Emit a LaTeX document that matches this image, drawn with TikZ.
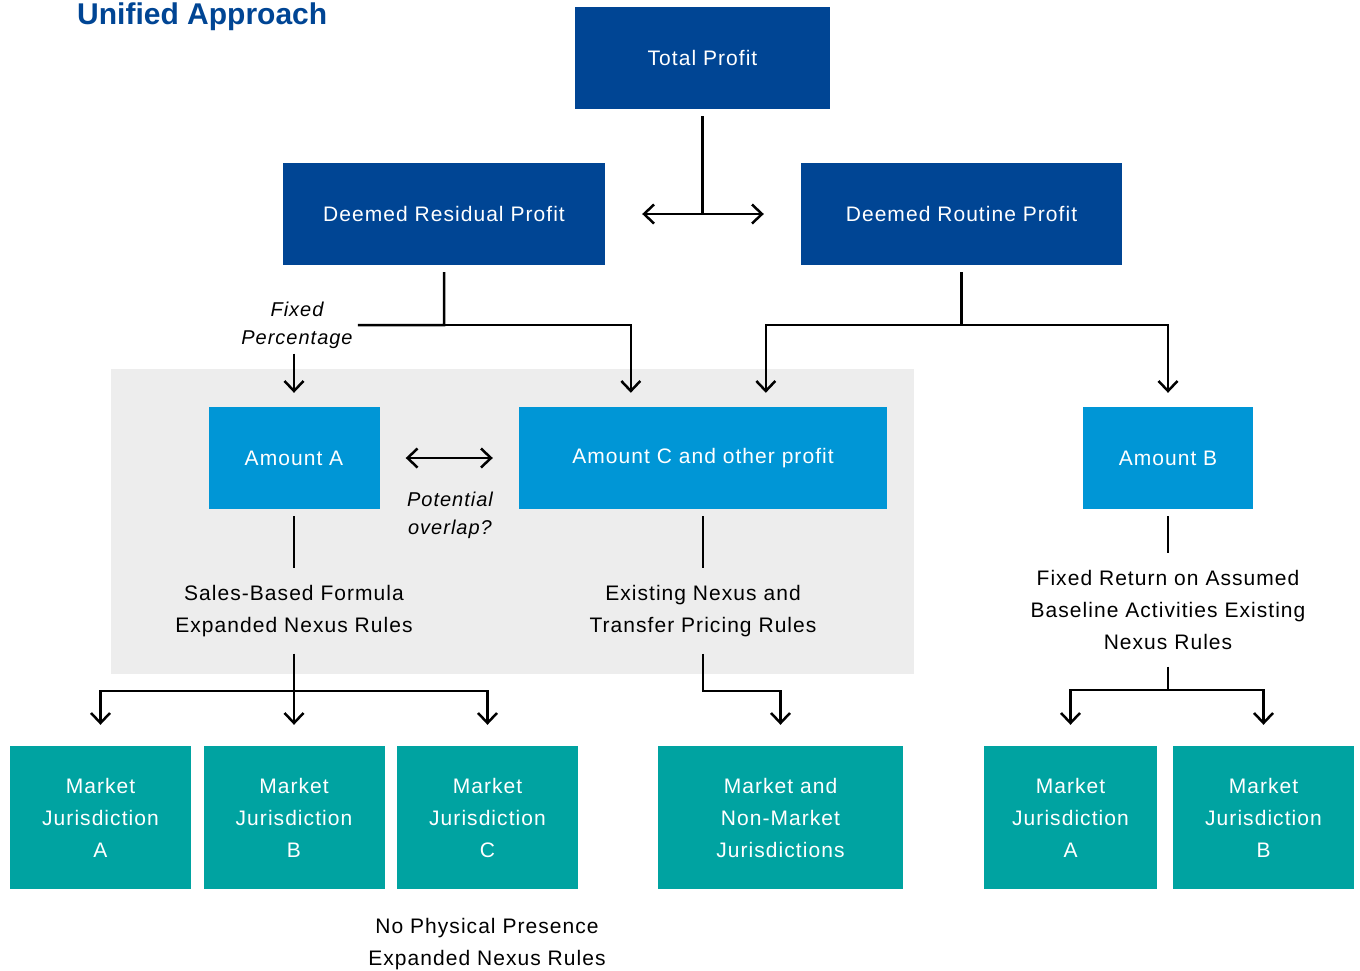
\documentclass[tikz,border=0pt]{standalone}
\usepackage{fontspec}
\setmainfont{Liberation Sans}
\newfontfamily\boxfont[LetterSpace=5]{Liberation Sans}
\usetikzlibrary{arrows.meta,calc,positioning}
\definecolor{dblue}{RGB}{0,69,148}
\definecolor{lblue}{RGB}{0,150,214}
\definecolor{tealbox}{RGB}{0,163,161}
\definecolor{bggray}{RGB}{237,237,237}
\tikzstyle{box}=[rectangle, inner sep=0pt, text=white, align=center,
font=\boxfont\fontsize{21}{32}\selectfont]
\tikzstyle{dbox}=[box, fill=dblue, minimum height=102pt]
\tikzstyle{lbox}=[box, fill=lblue, minimum height=102pt]
\tikzstyle{tbox}=[box, fill=tealbox, minimum height=143pt]
\tikzstyle{rule}=[align=center, inner xsep=0pt, inner ysep=17pt,
font=\boxfont\fontsize{21}{32}\selectfont]
\tikzstyle{note}=[align=center, inner sep=5pt,
font=\boxfont\itshape\fontsize{20}{28}\selectfont]
\tikzstyle{myline}=[line width=2.5pt, shorten <=7pt]
\tikzstyle{myarrow}=[myline, -{Straight Barb[length=10pt,width=19pt]}, shorten >=14pt]
\tikzstyle{dblarrow}=[line width=2.5pt,
{Straight Barb[length=10pt,width=19pt]}-{Straight Barb[length=10pt,width=19pt]}]

\begin{document}
\begin{tikzpicture}[x=1pt, y=-1pt]
    \useasboundingbox (0,0) rectangle (1360,970);
    \fill[bggray] (111,369) rectangle (914,674);

    \node[anchor=base west, text=dblue, inner sep=0pt,
        font=\bfseries\fontsize{30}{36}\selectfont] (ttl) at (77,24) {Unified Approach};

    \node[dbox, minimum width=255pt] (T) at (702.5,58) {Total Profit};
    \node[dbox, minimum width=322pt] (Da) at (444,214) {Deemed Residual Profit};
    \node[dbox, minimum width=321pt] (Db) at (961.5,214) {Deemed Routine Profit};

    \node[lbox, minimum width=171pt] (Aa) at (294,458) {Amount A};
    \node[lbox, minimum width=368pt] (Ac) at (703,458) {Amount C and other profit};
    \node[lbox, minimum width=170pt] (Ab) at (1168,458) {Amount B};

    \node[note] (fix) at (297,325) {Fixed\\Percentage};
    \node[note] (ovl) at (450,515) {Potential\\overlap?};

    \node[rule] (Ra) at (294,611) {Sales-Based Formula\\Expanded Nexus Rules};
    \node[rule] (Rc) at (703,611) {Existing Nexus and\\Transfer Pricing Rules};
    \node[rule] (Rb) at (1168,610) {Fixed Return on Assumed\\Baseline Activities Existing\\Nexus Rules};

    \node[tbox, minimum width=181pt] (Ma1) at (100.5,817.5) {Market\\Jurisdiction\\A};
    \node[tbox, minimum width=181pt] (Ma2) at (294,817.5) {Market\\Jurisdiction\\B};
    \node[tbox, minimum width=181pt] (Ma3) at (487.5,817.5) {Market\\Jurisdiction\\C};
    \node[tbox, minimum width=245pt] (Mc) at (780.5,817.5) {Market and\\Non-Market\\Jurisdictions};
    \node[tbox, minimum width=173pt] (Mb1) at (1070.5,817.5) {Market\\Jurisdiction\\A};
    \node[tbox, minimum width=181pt] (Mb2) at (1263.5,817.5) {Market\\Jurisdiction\\B};

    \node[rule, inner ysep=0pt] (npp) at (487,944) {No Physical Presence\\Expanded Nexus Rules};

    \coordinate (inC1) at ($(Ac.north west)+(112,0)$);
    \coordinate (inC2) at ($(Ac.north west)+(247,0)$);

    \draw[myline] (T.south) -- (T.south |- Da.east);
    \draw[dblarrow, shorten <=37pt, shorten >=37pt] (Da.east) -- (Db.west);

    \draw[myline] (Da.south) -- ++(0,60) -- (fix.east);
    \draw[myarrow, shorten <=0pt] (fix.south -| Aa.north) -- (Aa.north);
    \draw[myarrow] (Da.south) -- ++(0,60) -| (inC1);
    \draw[myarrow] (Db.south) -- ++(0,60) -| (inC2);
    \draw[myarrow] (Db.south) -- ++(0,60) -| (Ab.north);

    \draw[dblarrow, shorten <=26pt, shorten >=26pt] (Aa.east) -- (Ac.west);

    \draw[myline] (Aa.south) -- (Ra.north);
    \draw[myline] (Ac.south) -- (Rc.north);
    \draw[myline] (Ab.south) -- (Rb.north);

    \draw[myarrow, shorten <=0pt, shorten >=21pt] (Ra.south) -- (Ma2.north);
    \draw[myarrow, shorten <=0pt, shorten >=21pt] (Ra.south) -- ++(0,37) -| (Ma1.north);
    \draw[myarrow, shorten <=0pt, shorten >=21pt] (Ra.south) -- ++(0,37) -| (Ma3.north);
    \draw[myarrow, shorten <=0pt, shorten >=21pt] (Rc.south) -- ++(0,37) -| (Mc.north);
    \draw[myarrow, shorten <=0pt, shorten >=21pt] (Rb.south) -- ++(0,23) -| (Mb1.north);
    \draw[myarrow, shorten <=0pt, shorten >=21pt] (Rb.south) -- ++(0,23) -| (Mb2.north);
\end{tikzpicture}
\end{document}
